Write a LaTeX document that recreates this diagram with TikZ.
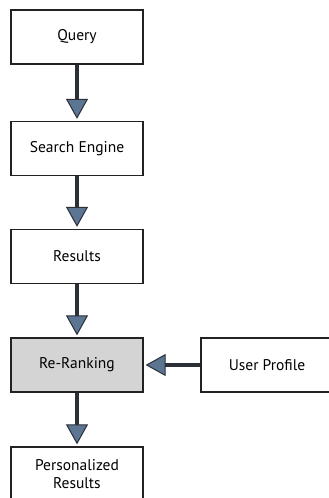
\documentclass[tikz,border=0pt]{standalone}
\usepackage{fontspec}
\setmainfont{PT Sans}
\usetikzlibrary{arrows.meta}
\definecolor{boxline}{HTML}{222222}
\definecolor{arrowblue}{HTML}{5B7593}
\definecolor{shaftcol}{HTML}{2B2F36}
\definecolor{graybox}{HTML}{D4D4D4}
\begin{document}
\begin{tikzpicture}[x=1pt,y=-1pt,
  box/.style={draw=boxline, line width=1.3pt, fill=white, minimum width=132pt, minimum height=54pt,
    inner sep=0pt, align=center, font=\fontsize{15.5}{18}\selectfont},
  flow/.style={draw=shaftcol, line width=4pt,
    -{Triangle[length=20pt,width=22pt,line width=1pt,fill=arrowblue,color=shaftcol]}, shorten >=2pt}]
\useasboundingbox (0,0) rectangle (329,498);
\clip (0,0) rectangle (329,498);
\node[box] (q) at (77,37) {Query};
\node[box] (se) at (77,148.5) {Search Engine};
\node[box] (res) at (77,256.5) {Results};
\node[box, fill=graybox] (rr) at (77,365) {Re-Ranking};
\node[box] (up) at (267,365) {User Profile};
\node[box] (pr) at (77,474) {Personalized\\Results};
\draw[flow] (q) -- (se);
\draw[flow] (se) -- (res);
\draw[flow] (res) -- (rr);
\draw[flow] (rr) -- (pr);
\draw[flow] (up) -- (rr);
\end{tikzpicture}
\end{document}
